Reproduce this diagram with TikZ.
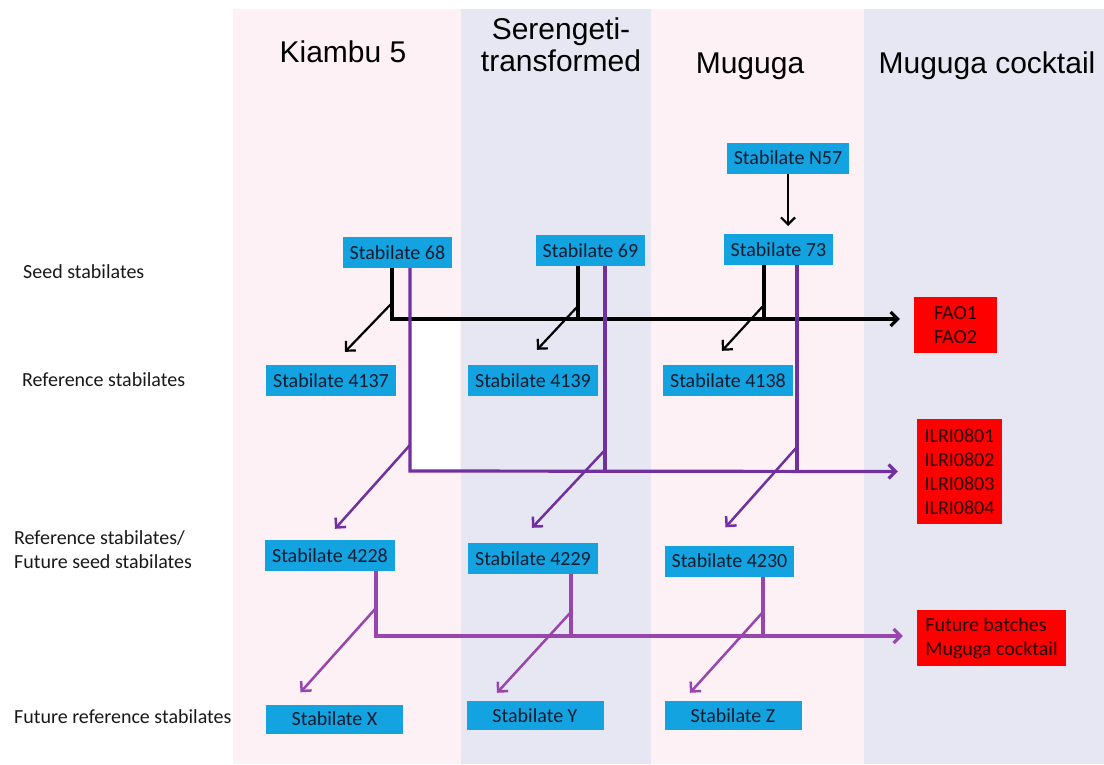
\documentclass[tikz,border=0pt]{standalone}
\usepackage{fontspec}
\setmainfont{Carlito}
\newfontfamily\headfont{Liberation Sans}
\usetikzlibrary{arrows.meta}

\begin{document}
\begin{tikzpicture}[x=1pt, y=-1pt, >={Straight Barb[length=7pt,width=14pt]}]
  \definecolor{bandpink}{HTML}{FDF1F6}
  \definecolor{bandlav}{HTML}{E7E6F3}
  \definecolor{stabblue}{HTML}{12A3E0}
  \definecolor{lotred}{HTML}{FF0000}
  \definecolor{refpurple}{HTML}{7030A0}
  \definecolor{futpurple}{HTML}{9845AE}
  \definecolor{boxtext}{HTML}{101C30}
  \tikzstyle{stab}=[fill=stabblue, text=boxtext, inner xsep=7pt, inner ysep=0pt, minimum height=31pt, font=\fontsize{20}{24}\selectfont]
  \tikzstyle{stabwide}=[stab, minimum width=137pt, minimum height=29pt]
  \tikzstyle{lot}=[fill=lotred, text=black!85!red, align=left, inner sep=0pt, font=\fontsize{20}{24}\selectfont]
  \tikzstyle{rowlabel}=[anchor=west, align=left, inner sep=0pt, text=black!90, font=\fontsize{20}{24}\selectfont]
  \tikzstyle{head}=[anchor=base, align=center, inner sep=0pt, font=\headfont\fontsize{30}{32}\selectfont]
  \tikzstyle{seedline}=[line width=3.2pt, black]
  \tikzstyle{seedarrow}=[->, line width=2.2pt, black]
  \tikzstyle{refline}=[line width=3.2pt, refpurple]
  \tikzstyle{refarrow}=[->, line width=2.5pt, refpurple]
  \tikzstyle{futline}=[line width=3.2pt, futpurple]
  \tikzstyle{futarrow}=[->, line width=2.5pt, futpurple]

  \useasboundingbox (0,0) rectangle (1104,764);
  \fill[white] (0,0) rectangle (1104,764);

  % strain columns
  \fill[bandpink] (233,9) rectangle (461,764);
  \fill[bandlav] (461,9) rectangle (651,764);
  \fill[bandpink] (651,9) rectangle (864,764);
  \fill[bandlav] (864,9) rectangle (1104,764);
  \fill[white] (412,320) rectangle (460,471);

  \node[head] (kiambu) at (343,62) {Kiambu 5};
  \node[head] (serengeti) at (561,71) {Serengeti-\\transformed};
  \node[head] (muguga) at (750,73) {Muguga};
  \node[head] (cocktail) at (987,73) {Muguga cocktail};

  \node[rowlabel] (seedrow) at (23,272) {Seed stabilates};
  \node[rowlabel] (refrow) at (22,380) {Reference stabilates};
  \node[rowlabel] (futseedrow) at (14,550) {Reference stabilates/\\Future seed stabilates};
  \node[rowlabel] (futrefrow) at (14,717) {Future reference stabilates};

  % stabilates
  \node[stab] (n57) at (788,158) {Stabilate N57};
  \node[stab] (s68) at (397.5,252.5) {Stabilate 68};
  \node[stab] (s69) at (590.5,250.5) {Stabilate 69};
  \node[stab] (s73) at (778.5,249.5) {Stabilate 73};
  \node[stab] (r4137) at (331,380.5) {Stabilate 4137};
  \node[stab] (r4139) at (533,380.5) {Stabilate 4139};
  \node[stab] (r4138) at (728,380.5) {Stabilate 4138};
  \node[stab] (f4228) at (330,555.5) {Stabilate 4228};
  \node[stab] (f4229) at (533,558.5) {Stabilate 4229};
  \node[stab] (f4230) at (729.5,561) {Stabilate 4230};
  \node[stabwide] (sx) at (334.5,719) {Stabilate X};
  \node[stabwide] (sy) at (535,715.5) {Stabilate Y};
  \node[stabwide] (sz) at (733,715.5) {Stabilate Z};

  % vaccine batches
  \node[lot, minimum width=83pt, minimum height=56pt] (fao) at (955.5,325) {FAO1\\FAO2};
  \node[lot, minimum width=85pt, minimum height=105pt] (ilri) at (959.5,471.5) {ILRI0801\\ILRI0802\\ILRI0803\\ILRI0804};
  \node[lot, minimum width=149pt, minimum height=56pt] (future) at (991.5,638) {Future batches\\Muguga cocktail};

  \coordinate (n57tip) at (788,226);
  \draw[seedarrow] (n57.south) -- (n57tip);

  \coordinate (b68) at (392,319);
  \coordinate (b69) at (578,319);
  \coordinate (b73) at (764,319);
  \draw[seedline, ->] (s68.south -| b68) -- (b68) -- ([xshift=-14pt,yshift=6pt]fao.west);
  \draw[seedline] (s69.south -| b69) -- (b69);
  \draw[seedline] (s73.south -| b73) -- (b73);
  \draw[seedarrow] ([yshift=16pt]b68) -- ([xshift=14pt,yshift=13pt]r4137.north);
  \draw[seedarrow] ([yshift=13pt]b69) -- ([xshift=4pt,yshift=15pt]r4139.north);
  \draw[seedarrow] ([yshift=14pt]b73) -- ([xshift=-6pt,yshift=14pt]r4138.north);

  \coordinate (p68) at (410,471);
  \coordinate (p69) at (605,471);
  \coordinate (p73) at (797,471);
  \draw[refline, ->] (s68.south -| p68) -- (p68) -- ([xshift=-19pt]ilri.west);
  \draw[refline] (s69.south -| p69) -- (p69);
  \draw[refline] (s73.south -| p73) -- (p73);
  \draw[refarrow] ([yshift=26pt]p68) -- ([xshift=5pt,yshift=11pt]f4228.north);
  \draw[refarrow] ([yshift=21pt]p69) -- ([xshift=-1pt,yshift=15pt]f4229.north);
  \draw[refarrow] ([yshift=24pt]p73) -- ([xshift=-4pt,yshift=18pt]f4230.north);

  \coordinate (q28) at (376,636);
  \coordinate (q29) at (571,636);
  \coordinate (q30) at (763,636);
  \draw[futline, ->] (f4228.south -| q28) -- (q28) -- ([xshift=-14pt,yshift=2pt]future.west);
  \draw[futline] (f4229.south -| q29) -- (q29);
  \draw[futline] (f4230.south -| q30) -- (q30);
  \draw[futarrow] ([yshift=28pt]q28) -- ([xshift=-34pt,yshift=12pt]sx.north);
  \draw[futarrow] ([yshift=24pt]q29) -- ([xshift=-38pt,yshift=8pt]sy.north);
  \draw[futarrow] ([yshift=24pt]q30) -- ([xshift=-43pt,yshift=8pt]sz.north);

\end{tikzpicture}
\end{document}
